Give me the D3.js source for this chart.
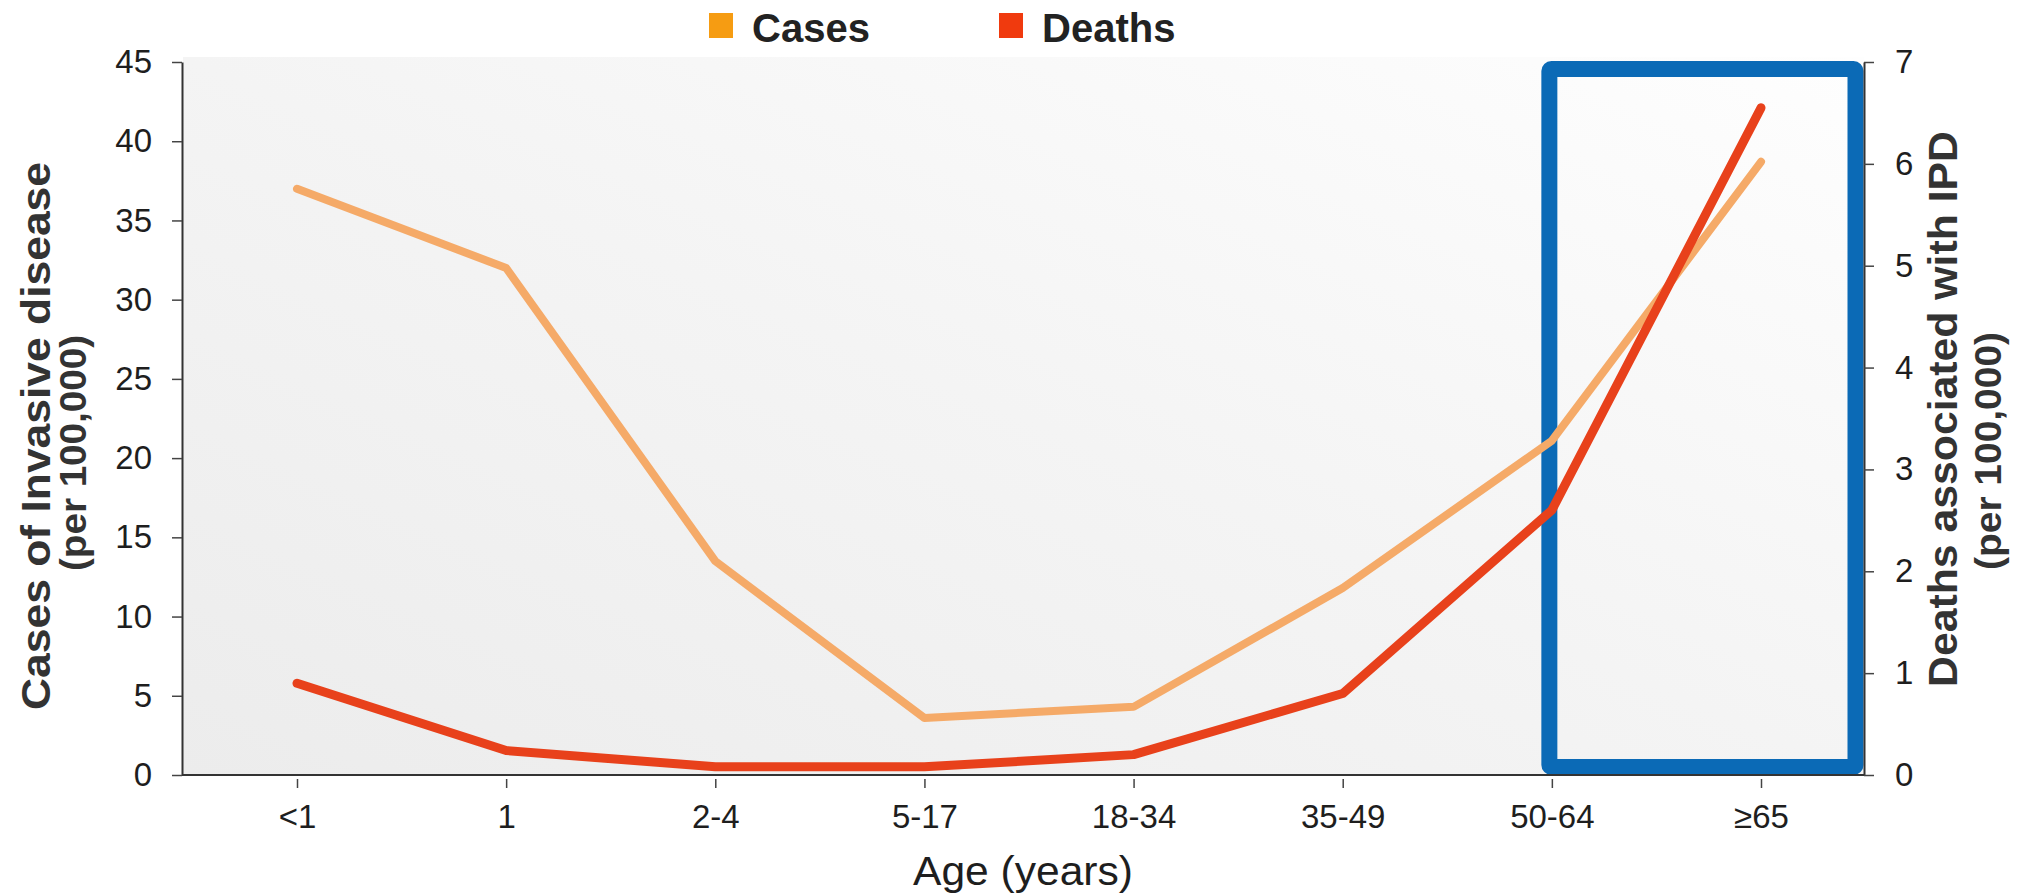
<!DOCTYPE html>
<html><head><meta charset="utf-8">
<script src="https://cdn.jsdelivr.net/npm/d3@7"></script>
<style>body{margin:0;background:#fff;} svg{display:block;font-family:"Liberation Sans",Arial,sans-serif;}</style>
</head><body><svg id="c" width="2034" height="895"></svg>
<script>
// ---- data ----
const categories = ["<1", "1", "2-4", "5-17", "18-34", "35-49", "50-64", "≥65"];
const cases = [37, 32, 13.5, 3.6, 4.3, 11.8, 21.1, 38.7];
const deaths = [0.9, 0.24, 0.08, 0.08, 0.2, 0.8, 2.6, 6.55];
const leftTicks = [0, 5, 10, 15, 20, 25, 30, 35, 40, 45];
const rightTicks = [0, 1, 2, 3, 4, 5, 6, 7];
const seriesNames = ["Cases", "Deaths"];
const highlightCats = ["50-64", "≥65"];

const svg = d3.select("#c");
const L = 182, R = 1864, T = 62, B = 775;

const x = d3.scalePoint().domain(categories).range([297, 1761]);
const xFrame = d3.scaleLinear().domain([0, 1]).range([L, R]);
const yL = d3.scaleLinear().domain([0, 45]).range([B, T]);
const yR = d3.scaleLinear().domain([0, 7]).range([B, T]);

// background gradient
const defs = svg.append("defs");
const g = defs.append("linearGradient").attr("id", "bg").attr("x1", 0).attr("y1", 1).attr("x2", 1).attr("y2", 0);
g.append("stop").attr("offset", "0%").attr("stop-color", "#ececec");
g.append("stop").attr("offset", "50%").attr("stop-color", "#f4f4f4");
g.append("stop").attr("offset", "100%").attr("stop-color", "#fefefe");
svg.append("rect").attr("x", L + 1).attr("y", 57).attr("width", R - L - 1).attr("height", B - 57).attr("fill", "url(#bg)");

// highlight box
const bx0 = x(highlightCats[0]) - 2.5, bx1 = R - 8.5;
svg.append("rect")
  .attr("x", bx0).attr("y", 69)
  .attr("width", bx1 - bx0).attr("height", B - 8 - 69)
  .attr("rx", 2)
  .attr("fill", "none").attr("stroke", "#0b6ab6").attr("stroke-width", 16);

// lines
const lineL = d3.line().x((d, i) => x(categories[i])).y(d => yL(d));
const lineR = d3.line().x((d, i) => x(categories[i])).y(d => yR(d));
svg.append("path").datum(cases).attr("d", lineL).attr("fill", "none")
  .attr("stroke", "#f5aa68").attr("stroke-width", 8).attr("stroke-linejoin", "round").attr("stroke-linecap", "round");
svg.append("path").datum(deaths).attr("d", lineR).attr("fill", "none")
  .attr("stroke", "#e8411b").attr("stroke-width", 9).attr("stroke-linejoin", "round").attr("stroke-linecap", "round");

// axes
const axisStyle = sel => {
  sel.selectAll("path.domain").attr("stroke", "#333").attr("stroke-width", 2);
  sel.selectAll(".tick line").attr("stroke", "#444").attr("stroke-width", 1.5);
  sel.selectAll(".tick text").attr("fill", "#1e1e1e").style("font-size", "33px").style("font-family", "'Liberation Sans',Arial,sans-serif");
};
svg.append("g").attr("transform", `translate(${L},0)`)
  .call(d3.axisLeft(yL).tickValues(leftTicks).tickFormat(d3.format("d")).tickSize(10).tickSizeOuter(0).tickPadding(20))
  .call(axisStyle);
svg.append("g").attr("transform", `translate(${R},0)`)
  .call(d3.axisRight(yR).tickValues(rightTicks).tickFormat(d3.format("d")).tickSize(10).tickSizeOuter(0).tickPadding(21))
  .call(axisStyle);
const xa = svg.append("g").attr("transform", `translate(0,${B + 1})`)
  .call(d3.axisBottom(x).tickSize(12).tickSizeOuter(0).tickPadding(17))
  .call(axisStyle);
xa.select("path.domain").remove();
xa.selectAll(".tick line").attr("y1", 3);
svg.append("line").attr("x1", xFrame(0)).attr("x2", xFrame(1)).attr("y1", B).attr("y2", B)
  .attr("stroke", "#333").attr("stroke-width", 2);

// titles
svg.append("text").attr("transform", "translate(1023,885)").attr("text-anchor", "middle")
  .attr("fill", "#1e1e1e").style("font-size", "40px").attr("textLength", 220).attr("lengthAdjust", "spacingAndGlyphs").text("Age (years)");
svg.append("text").attr("transform", "translate(50,436) rotate(-90)").attr("text-anchor", "middle")
  .attr("fill", "#333").style("font-size", "41px").style("font-weight", "bold")
  .attr("textLength", 548).attr("lengthAdjust", "spacingAndGlyphs").text("Cases of Invasive disease");
svg.append("text").attr("transform", "translate(86,453) rotate(-90)").attr("text-anchor", "middle")
  .attr("fill", "#333").style("font-size", "36px").style("font-weight", "bold")
  .attr("textLength", 236).attr("lengthAdjust", "spacingAndGlyphs").text("(per 100,000)");
svg.append("text").attr("transform", "translate(1957,409) rotate(-90)").attr("text-anchor", "middle")
  .attr("fill", "#333").style("font-size", "41px").style("font-weight", "bold")
  .attr("textLength", 556).attr("lengthAdjust", "spacingAndGlyphs").text("Deaths associated with IPD");
svg.append("text").attr("transform", "translate(2001,451) rotate(-90)").attr("text-anchor", "middle")
  .attr("fill", "#333").style("font-size", "36px").style("font-weight", "bold")
  .attr("textLength", 238).attr("lengthAdjust", "spacingAndGlyphs").text("(per 100,000)");

// legend
const legendX = [709, 999];
const legendColors = ["#f69c12", "#f03a0e"];
seriesNames.forEach((n, i) => {
  svg.append("rect").attr("x", legendX[i]).attr("y", 13).attr("width", 24).attr("height", 25).attr("fill", legendColors[i]);
  svg.append("text").attr("x", legendX[i] + 43).attr("y", 42).attr("fill", "#222")
    .style("font-size", "40px").style("font-weight", "bold").text(n);
});
</script>
</body></html>
